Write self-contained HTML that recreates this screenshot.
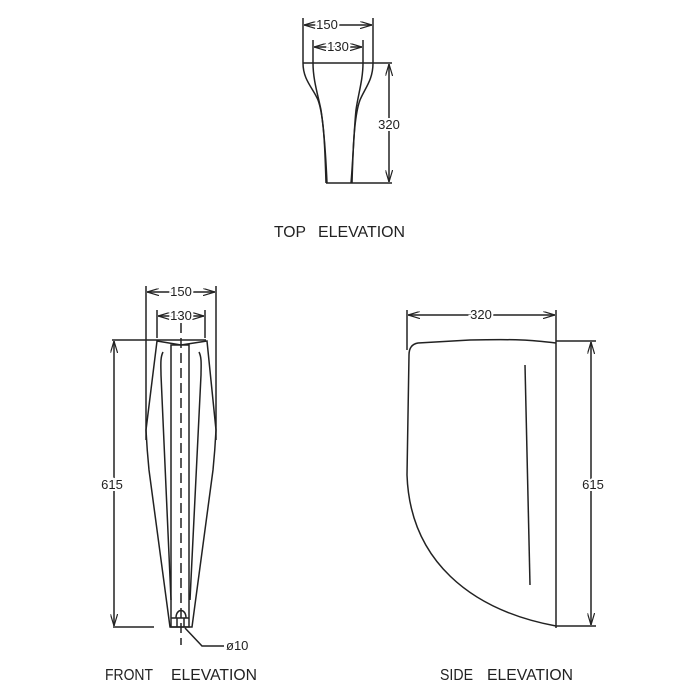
<!DOCTYPE html>
<html><head><meta charset="utf-8"><style>
html,body{margin:0;padding:0;background:#fff;width:700px;height:700px;overflow:hidden}
svg{display:block}
text{font-family:"Liberation Sans",sans-serif;fill:#222}
</style></head><body>
<svg width="700" height="700" viewBox="0 0 700 700" xmlns="http://www.w3.org/2000/svg">
<defs>
<marker id="a" viewBox="0 0 10 6" refX="10" refY="3" markerWidth="8" markerHeight="5" orient="auto-start-reverse"><path d="M0,0 L10,3 L0,6" fill="none" stroke="#222" stroke-width="1"/></marker>
</defs>
<g stroke="#222" stroke-width="1.5" fill="none">
<!-- TOP ELEVATION -->
<line x1="303" y1="18" x2="303" y2="63"/>
<line x1="373" y1="18" x2="373" y2="63"/>
<line x1="304" y1="25" x2="372" y2="25" marker-start="url(#a)" marker-end="url(#a)"/>
<line x1="313" y1="40" x2="313" y2="63"/>
<line x1="363" y1="40" x2="363" y2="63"/>
<line x1="314" y1="47" x2="362" y2="47" marker-start="url(#a)" marker-end="url(#a)"/>
<line x1="303" y1="63" x2="392" y2="63"/>
<line x1="326" y1="183" x2="392" y2="183"/>
<line x1="389" y1="64" x2="389" y2="182" marker-start="url(#a)" marker-end="url(#a)"/>
<path d="M303,63 C303,80 313,88 318,100 C324,116 325,150 326,183"/>
<path d="M313,63 C313,80 318,95 321,110 C324,130 326,160 327,183"/>
<path d="M373,63 C373,80 365,88 360,100 C354,116 353,150 352,183"/>
<path d="M363,63 C363,80 358,95 356,110 C354,130 353,160 351,183"/>
<!-- FRONT ELEVATION -->
<line x1="146" y1="286" x2="146" y2="440"/>
<line x1="216" y1="286" x2="216" y2="440"/>
<line x1="147" y1="292" x2="215" y2="292" marker-start="url(#a)" marker-end="url(#a)"/>
<line x1="157" y1="310" x2="157" y2="338"/>
<line x1="205" y1="310" x2="205" y2="338"/>
<line x1="158" y1="316" x2="204" y2="316" marker-start="url(#a)" marker-end="url(#a)"/>
<line x1="112" y1="340" x2="206" y2="340"/>
<line x1="113" y1="627" x2="154" y2="627"/>
<line x1="114" y1="341" x2="114" y2="626" marker-start="url(#a)" marker-end="url(#a)"/>
<path d="M157,341 L181,345 L207,341 L216,430 Q215,450 213,470 L192,627 L170,627 L149,470 Q147,450 146,430 Z"/>
<path d="M163,352 C160,358 161,366 161,375 L171,600"/>
<path d="M199,352 C202,358 201,366 201,375 L190,600"/>
<rect x="171" y="345" width="18" height="282"/>
<line x1="181" y1="323" x2="181" y2="645" stroke-dasharray="10,5"/>
<line x1="171" y1="618" x2="189" y2="618"/>
<path d="M176,618 C176,608 186,608 186,618"/>
<line x1="177" y1="618" x2="177" y2="627"/><line x1="184" y1="618" x2="184" y2="627"/>
<polyline points="185,628 202,646 224,646"/>
<!-- SIDE ELEVATION -->
<line x1="407" y1="310" x2="407" y2="350"/>
<line x1="556" y1="310" x2="556" y2="628"/>
<line x1="408" y1="315" x2="555" y2="315" marker-start="url(#a)" marker-end="url(#a)"/>
<line x1="556" y1="341" x2="596" y2="341"/>
<line x1="556" y1="626" x2="596" y2="626"/>
<line x1="591" y1="342" x2="591" y2="625" marker-start="url(#a)" marker-end="url(#a)"/>
<path d="M556,343 C530,340 520,339 470,340 L418,343 C412,344 409,348 409,355 L407,475 C410,560 470,610 556,626"/>
<line x1="525" y1="365" x2="530" y2="585"/>
</g>
<g font-size="13">
<text x="327" y="29" text-anchor="middle" stroke="#fff" stroke-width="4" paint-order="stroke">150</text>
<text x="338" y="51" text-anchor="middle" stroke="#fff" stroke-width="4" paint-order="stroke">130</text>
<text x="389" y="129" text-anchor="middle" stroke="#fff" stroke-width="4" paint-order="stroke">320</text>
<text x="181" y="296" text-anchor="middle" stroke="#fff" stroke-width="4" paint-order="stroke">150</text>
<text x="181" y="320" text-anchor="middle" stroke="#fff" stroke-width="4" paint-order="stroke">130</text>
<text x="112" y="489" text-anchor="middle" stroke="#fff" stroke-width="4" paint-order="stroke">615</text>
<text x="226" y="650">ø10</text>
<text x="481" y="319" text-anchor="middle" stroke="#fff" stroke-width="4" paint-order="stroke">320</text>
<text x="593" y="489" text-anchor="middle" stroke="#fff" stroke-width="4" paint-order="stroke">615</text>
</g>
<g font-size="16">
<text x="274" y="237" textLength="32" lengthAdjust="spacingAndGlyphs">TOP</text>
<text x="318" y="237" textLength="87" lengthAdjust="spacingAndGlyphs">ELEVATION</text>
<text x="105" y="680" textLength="48" lengthAdjust="spacingAndGlyphs">FRONT</text>
<text x="171" y="680" textLength="86" lengthAdjust="spacingAndGlyphs">ELEVATION</text>
<text x="440" y="680" textLength="33" lengthAdjust="spacingAndGlyphs">SIDE</text>
<text x="487" y="680" textLength="86" lengthAdjust="spacingAndGlyphs">ELEVATION</text>
</g>
</svg>
</body></html>
